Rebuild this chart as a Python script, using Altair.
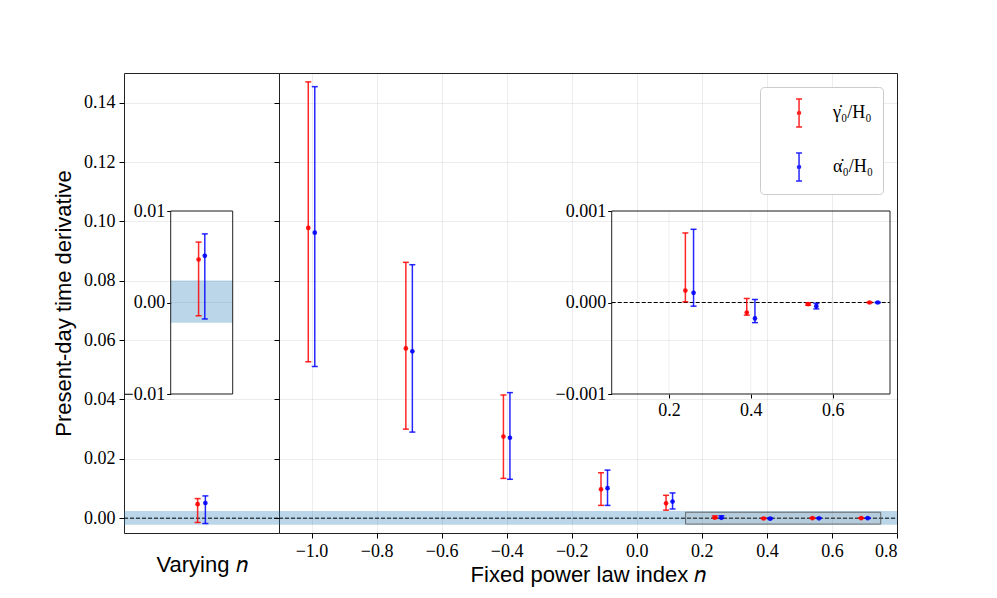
import altair as alt
import pandas as pd

# ---------------- data ----------------
series_names = ["gamma", "alpha"]
series_colors = ["#ff0000", "#0000ff"]

# fixed power-law index runs
n_fixed = [-1.0, -0.7, -0.4, -0.1, 0.1, 0.25, 0.4, 0.55, 0.7]
gamma_c = [0.0978, 0.0572, 0.0275, 0.0097, 0.0050, 0.00013, -0.00011, -0.000018, 0.0]
gamma_lo = [0.0527, 0.0300, 0.0134, 0.0043, 0.0027, 0.000008, -0.000138, -0.000030, -0.000004]
gamma_hi = [0.1470, 0.0862, 0.0415, 0.0153, 0.0077, 0.00076, 0.000044, -0.000006, 0.000004]
alpha_c = [0.0962, 0.0562, 0.0271, 0.0101, 0.0056, 0.000106, -0.000174, -0.00004, 0.0]
alpha_lo = [0.0511, 0.0290, 0.0131, 0.0043, 0.0031, -0.00004, -0.00022, -0.00007, -0.000004]
alpha_hi = [0.1454, 0.0854, 0.0423, 0.0162, 0.0085, 0.00080, 0.000033, -0.00001, 0.000004]

# varying index run
n_vary = [0.0]
gamma_vary_c = [0.0047]
gamma_vary_lo = [-0.00145]
gamma_vary_hi = [0.0066]
alpha_vary_c = [0.0051]
alpha_vary_lo = [-0.0018]
alpha_vary_hi = [0.0075]

series_offset = [-0.01, 0.01]

band_lo_hi = [-0.0022, 0.0024]
main_y_domain = [-0.005, 0.15]
left_x_domain = [-0.2, 0.2]
right_x_domain = [-1.1, 0.8]
inset1_x_domain = [-0.1, 0.1]
inset1_y_domain = [-0.01, 0.01]
inset2_x_domain = [0.06, 0.74]
inset2_y_domain = [-0.001, 0.001]
inset2_min_n = 0.2
zoom_box_x = [0.15, 0.75]
zoom_box_y = [-0.002, 0.002]

main_y_ticks = [0.0, 0.02, 0.04, 0.06, 0.08, 0.10, 0.12, 0.14]
main_x_ticks = [-1.0, -0.8, -0.6, -0.4, -0.2, 0.0, 0.2, 0.4, 0.6, 0.8]
inset1_y_ticks = [-0.01, 0.0, 0.01]
inset2_x_ticks = [0.2, 0.4, 0.6]
inset2_y_ticks = [-0.001, 0.0, 0.001]

# ---------------- layout constants ----------------
H = 460
W_LEFT = 155
W_RIGHT = 618
INSET_TOP, INSET_BOTTOM = 138, 321
IN1_LEFT, IN1_RIGHT = 46.7, 108.7
IN2_LEFT, IN2_RIGHT = 332.7, 611

SERIF = "Liberation Serif"
SANS = "Liberation Sans"
GRID_OPACITY = 0.07


def err_frame(ns, groups):
    rows = []
    for (name, cs, los, his), dx in zip(groups, series_offset):
        for n, c, lo, hi in zip(ns, cs, los, his):
            rows.append({"n": n, "x": n + dx, "c": c, "lo": lo, "hi": hi, "series": name})
    return pd.DataFrame(rows)


fixed_df = err_frame(n_fixed, [("gamma", gamma_c, gamma_lo, gamma_hi),
                               ("alpha", alpha_c, alpha_lo, alpha_hi)])
vary_df = err_frame(n_vary, [("gamma", gamma_vary_c, gamma_vary_lo, gamma_vary_hi),
                             ("alpha", alpha_vary_c, alpha_vary_lo, alpha_vary_hi)])
inset2_df = fixed_df[fixed_df["n"] >= inset2_min_n].reset_index(drop=True)

color_scale = alt.Scale(domain=series_names, range=series_colors)


def sc(domain, rng=None):
    if rng is None:
        return alt.Scale(domain=domain, nice=False, zero=False)
    return alt.Scale(domain=domain, range=rng, nice=False, zero=False)


def errorbars(df, xs, ys, legend=None):
    base = alt.Chart(df)
    x = alt.X("x:Q", scale=xs, axis=None)
    col_leg = alt.Color("series:N", scale=color_scale, legend=legend)
    col = alt.Color("series:N", scale=color_scale, legend=None)
    rule = base.mark_rule(strokeWidth=1.5, opacity=0.85).encode(
        x=x, y=alt.Y("lo:Q", scale=ys, axis=None), y2="hi:Q", color=col_leg)
    cap_lo = base.mark_tick(orient="horizontal", size=6, thickness=1.5, opacity=0.85).encode(
        x=x, y=alt.Y("lo:Q", scale=ys, axis=None), color=col)
    cap_hi = base.mark_tick(orient="horizontal", size=6, thickness=1.5, opacity=0.85).encode(
        x=x, y=alt.Y("hi:Q", scale=ys, axis=None), color=col)
    pt = base.mark_circle(size=22, opacity=0.9).encode(
        x=x, y=alt.Y("c:Q", scale=ys, axis=None), color=col)
    return [rule, cap_lo, cap_hi, pt]


def band_layer(xdom, xs, ys, xaxis=None, yaxis=None):
    df = pd.DataFrame({"x0": [xdom[0]], "x1": [xdom[1]], "y0": [band_lo_hi[0]], "y1": [band_lo_hi[1]]})
    return alt.Chart(df).mark_rect(color="#1f77b4", opacity=0.3).encode(
        x=alt.X("x0:Q", scale=xs, axis=xaxis), x2="x1:Q",
        y=alt.Y("y0:Q", scale=ys, axis=yaxis), y2="y1:Q")


def zero_line(xdom, xs, ys):
    df = pd.DataFrame({"x0": [xdom[0]], "x1": [xdom[1]], "y": [0.0]})
    return alt.Chart(df).mark_rule(color="black", strokeWidth=1, strokeDash=[4, 2]).encode(
        x=alt.X("x0:Q", scale=xs, axis=None), x2="x1:Q",
        y=alt.Y("y:Q", scale=ys, axis=None))


def frame(xdom, ydom, xs, ys, xaxis=None, yaxis=None):
    df = pd.DataFrame({"x0": [xdom[0]], "x1": [xdom[1]], "y0": [ydom[0]], "y1": [ydom[1]]})
    return alt.Chart(df).mark_rect(fill="white", fillOpacity=0, stroke="#222", strokeWidth=1).encode(
        x=alt.X("x0:Q", scale=xs, axis=xaxis), x2="x1:Q",
        y=alt.Y("y0:Q", scale=ys, axis=yaxis), y2="y1:Q")


def hgrid(ticks, xdom, xs, ys):
    df = pd.DataFrame({"t": ticks, "x0": xdom[0], "x1": xdom[1]})
    return alt.Chart(df).mark_rule(color="black", opacity=GRID_OPACITY).encode(
        y=alt.Y("t:Q", scale=ys, axis=None), x=alt.X("x0:Q", scale=xs, axis=None), x2="x1:Q")


def vgrid(ticks, ydom, xs, ys):
    df = pd.DataFrame({"t": ticks, "y0": ydom[0], "y1": ydom[1]})
    return alt.Chart(df).mark_rule(color="black", opacity=GRID_OPACITY).encode(
        x=alt.X("t:Q", scale=xs, axis=None), y=alt.Y("y0:Q", scale=ys, axis=None), y2="y1:Q")


# ---------------- left panel (varying n) ----------------
XL = sc(left_x_domain)
YM = sc(main_y_domain)
XI1 = sc(inset1_x_domain, [IN1_LEFT, IN1_RIGHT])
YI1 = sc(inset1_y_domain, [INSET_BOTTOM, INSET_TOP])

left_y_axis = alt.Axis(orient="left", values=main_y_ticks, format=".2f", title="Present-day time derivative",
                       grid=True, domain=False, tickSize=5, labelPadding=4, titlePadding=8)
left_x_axis = alt.Axis(orient="bottom", labels=False, ticks=False, grid=False, domain=False,
                       title="Varying 𝑛", titlePadding=21)
inset1_y_axis = alt.Axis(orient="left", offset=-IN1_LEFT, values=inset1_y_ticks, format=".2f",
                         title=None, grid=False, domain=False, tickSize=4, labelPadding=2)

left_layers = [
    band_layer(left_x_domain, XL, YM, xaxis=left_x_axis, yaxis=left_y_axis),
    zero_line(left_x_domain, XL, YM),
    *errorbars(vary_df, XL, YM),
    hgrid(inset1_y_ticks, inset1_x_domain, XI1, YI1),
    band_layer(inset1_x_domain, XI1, YI1),
    *errorbars(vary_df, XI1, YI1),
    frame(inset1_x_domain, inset1_y_domain, XI1, YI1, xaxis=None, yaxis=inset1_y_axis),
]
left = alt.layer(*left_layers).resolve_scale(x="independent", y="independent").properties(
    width=W_LEFT, height=H)

# ---------------- right panel (fixed n) ----------------
XR = sc(right_x_domain)
XI2 = sc(inset2_x_domain, [IN2_LEFT, IN2_RIGHT])
YI2 = sc(inset2_y_domain, [INSET_BOTTOM, INSET_TOP])

right_x_axis = alt.Axis(orient="bottom", values=main_x_ticks, format=".1f", title="Fixed power law index 𝑛",
                        grid=True, domain=False, tickSize=5, labelPadding=4, titlePadding=4)
right_y_axis = alt.Axis(orient="left", values=main_y_ticks, labels=False, title=None, grid=True,
                        domain=False, tickSize=5)
inset2_x_axis = alt.Axis(orient="bottom", offset=INSET_BOTTOM - H, values=inset2_x_ticks, format=".1f",
                         title=None, grid=False, domain=False, tickSize=4, labelPadding=3,
                         labelFlush=False)
inset2_y_axis = alt.Axis(orient="left", offset=-IN2_LEFT, values=inset2_y_ticks, format=".3f",
                         title=None, grid=False, domain=False, tickSize=4, labelPadding=2)

legend = alt.Legend(
    title=None, orient="none", legendX=481, legendY=14,
    labelExpr="datum.label == 'gamma' ? 'γ̇₀/H₀' : 'α̇₀/H₀'",
    symbolType=("M0.87,-0.93V0.93M0.67,-0.93H1.07M0.67,0.93H1.07"
                "M0.97,0A0.1,0.1,0,1,1,0.77,0A0.1,0.1,0,1,1,0.97,0"),
    symbolSize=900, symbolStrokeWidth=1.5, symbolOpacity=0.85,
    labelFont=SERIF, labelFontSize=18, labelColor="black", labelOffset=31,
    padding=10, rowPadding=20, strokeColor="#cccccc", fillColor="white", cornerRadius=4,
)

zoom_df = pd.DataFrame({"x0": [zoom_box_x[0]], "x1": [zoom_box_x[1]],
                        "y0": [zoom_box_y[0]], "y1": [zoom_box_y[1]]})
zoom_rect = alt.Chart(zoom_df).mark_rect(fill="#808080", fillOpacity=0.12, stroke="#505050",
                                         strokeOpacity=0.8, strokeWidth=1).encode(
    x=alt.X("x0:Q", scale=XR, axis=None), x2="x1:Q",
    y=alt.Y("y0:Q", scale=YM, axis=None), y2="y1:Q")

right_layers = [
    band_layer(right_x_domain, XR, YM, xaxis=right_x_axis, yaxis=right_y_axis),
    zero_line(right_x_domain, XR, YM),
    zoom_rect,
    *errorbars(fixed_df, XR, YM, legend=legend),
    hgrid(inset2_y_ticks, inset2_x_domain, XI2, YI2),
    vgrid(inset2_x_ticks, inset2_y_domain, XI2, YI2),
    zero_line(inset2_x_domain, XI2, YI2),
    *errorbars(inset2_df, XI2, YI2),
    frame(inset2_x_domain, inset2_y_domain, XI2, YI2, xaxis=inset2_x_axis, yaxis=inset2_y_axis),
]
right = alt.layer(*right_layers).resolve_scale(x="independent", y="independent").properties(
    width=W_RIGHT, height=H)

chart = alt.hconcat(left, right, spacing=0, bounds="flush").resolve_scale(
    color="independent").resolve_legend(color="independent").properties(
    padding={"left": 44, "top": 64, "right": 10, "bottom": 5}, background="white"
).configure_view(stroke="#222222", strokeWidth=1).configure_axis(
    labelFont=SERIF, labelFontSize=18, labelColor="black",
    titleFont=SANS, titleFontSize=22, titleFontWeight="normal", titleColor="black",
    tickColor="black", gridColor="black", gridOpacity=GRID_OPACITY,
)

chart.save("out.html", embed_options={"renderer": "svg", "actions": False})
